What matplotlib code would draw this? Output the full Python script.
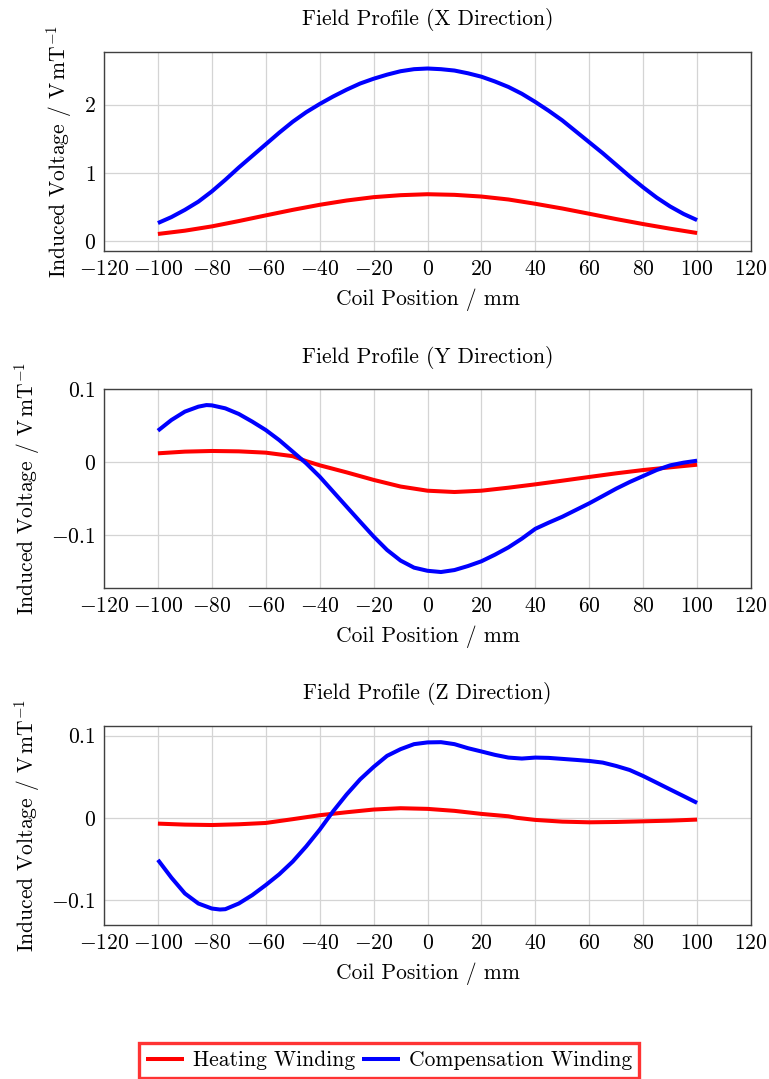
import matplotlib
matplotlib.use("Agg")
import matplotlib.pyplot as plt
from matplotlib.ticker import MultipleLocator, FuncFormatter

plt.rcParams['font.family'] = 'serif'
plt.rcParams['font.serif'] = ['cmr10']
plt.rcParams['mathtext.fontset'] = 'cm'
plt.rcParams['axes.formatter.use_mathtext'] = True
plt.rcParams['axes.unicode_minus'] = True

# ---- data ----
# X direction
xh_pos = [-100, -90, -80, -70, -60, -50, -40, -30, -20, -10, 0, 10, 20, 30, 40, 50, 60, 70, 80, 90, 100]
x_heat = [0.107, 0.155, 0.218, 0.296, 0.379, 0.460, 0.534, 0.597, 0.646, 0.675, 0.689,
          0.680, 0.655, 0.612, 0.549, 0.480, 0.403, 0.325, 0.252, 0.184, 0.121]
xc_pos = [-100, -95, -90, -85, -80, -75, -70, -65, -60, -55, -50, -45, -40, -35, -30, -25, -20, -15, -10, -5, 0,
          5, 10, 15, 20, 25, 30, 35, 40, 45, 50, 55, 60, 65, 70, 75, 80, 85, 90, 95, 100]
x_comp = [0.267, 0.354, 0.46, 0.58, 0.73, 0.90, 1.08, 1.25, 1.42, 1.59, 1.75, 1.89, 2.01, 2.12, 2.22, 2.31, 2.38,
          2.44, 2.49, 2.52, 2.53, 2.52, 2.50, 2.46, 2.41, 2.34, 2.26, 2.16, 2.04, 1.91, 1.77, 1.61, 1.45, 1.29,
          1.12, 0.95, 0.79, 0.64, 0.51, 0.40, 0.31]

# Y direction
yh_pos = [-100, -90, -80, -70, -60, -50, -45, -40, -30, -20, -10, 0, 10, 20, 30, 40, 50, 60, 70, 80, 90, 100]
y_heat = [0.0119, 0.0142, 0.0151, 0.0146, 0.0128, 0.0080, 0.0012, -0.0045, -0.0142, -0.0245, -0.0336, -0.0393,
          -0.0411, -0.0393, -0.0352, -0.0306, -0.0256, -0.0205, -0.0155, -0.011, -0.0073, -0.0037]
yc_pos = [-100, -95, -90, -85, -82, -80, -75, -70, -65, -60, -55, -50, -45, -40, -35, -30, -25, -20, -15, -10, -5,
          0, 5, 10, 15, 20, 25, 30, 35, 40, 45, 50, 55, 60, 65, 70, 75, 80, 85, 90, 95, 100]
y_comp = [0.0429, 0.0575, 0.069, 0.0758, 0.078, 0.0776, 0.0735, 0.0658, 0.0553, 0.0438, 0.030, 0.0142, -0.0018,
          -0.020, -0.0406, -0.0612, -0.0817, -0.102, -0.1205, -0.135, -0.1447, -0.149, -0.1507, -0.148, -0.1425,
          -0.136, -0.127, -0.117, -0.105, -0.0915, -0.083, -0.075, -0.0658, -0.0566, -0.0466, -0.0365, -0.0274,
          -0.0192, -0.011, -0.0046, -0.0009, 0.0018]

# Z direction
zh_pos = [-100, -90, -80, -70, -60, -50, -40, -30, -20, -10, 0, 10, 20, 30, 33, 40, 50, 60, 70, 80, 90, 100]
z_heat = [-0.0069, -0.0081, -0.0086, -0.0077, -0.0061, -0.0015, 0.0033, 0.0069, 0.0102, 0.0118, 0.011, 0.0086,
          0.0049, 0.002, 0.0002, -0.0024, -0.0045, -0.0053, -0.0049, -0.0041, -0.0033, -0.002]
zc_pos = [-100, -95, -90, -85, -80, -77, -75, -70, -65, -60, -55, -50, -45, -40, -35, -30, -25, -20, -15, -10, -5,
          0, 5, 10, 15, 20, 25, 30, 35, 40, 45, 50, 55, 60, 65, 70, 75, 80, 85, 90, 95, 100]
z_comp = [-0.0509, -0.0725, -0.0917, -0.1039, -0.110, -0.1112, -0.1108, -0.1039, -0.0937, -0.0815, -0.0684,
          -0.053, -0.0346, -0.0143, 0.0081, 0.0285, 0.0468, 0.0619, 0.0754, 0.0835, 0.0896, 0.0917, 0.092, 0.0896,
          0.0847, 0.0807, 0.0766, 0.0733, 0.0721, 0.0733, 0.0729, 0.0717, 0.0705, 0.0692, 0.0672, 0.0631, 0.0582,
          0.0509, 0.0428, 0.0346, 0.0265, 0.0183]

titles = ["Field Profile (X Direction)", "Field Profile (Y Direction)", "Field Profile (Z Direction)"]
xticks = [-120, -100, -80, -60, -40, -20, 0, 20, 40, 60, 80, 100, 120]
ylims = [(-0.138, 2.776), (-0.173, 0.100), (-0.130, 0.112)]
ysteps = [1.0, 0.1, 0.1]
series = [(xh_pos, x_heat, xc_pos, x_comp), (yh_pos, y_heat, yc_pos, y_comp), (zh_pos, z_heat, zc_pos, z_comp)]

W, H = 769, 1079
fig = plt.figure(figsize=(W / 100, H / 100), dpi=100)
boxes = [(51.7, 250.7), (389.0, 588.3), (725.7, 925.0)]
FS = 15.5

def fmt(v, p):
    if abs(v) < 1e-9:
        return r'$0$'
    return r'$%g$' % round(v, 3)

lines = []
for i, ((top, bot), (hp, h, cp, c)) in enumerate(zip(boxes, series)):
    ax = fig.add_axes([104 / W, 1 - bot / H, (751 - 104) / W, (bot - top) / H])
    l1, = ax.plot(hp, h, color='#ff0000', lw=2.9, label='Heating Winding', zorder=3,
                  solid_joinstyle='round', solid_capstyle='butt')
    l2, = ax.plot(cp, c, color='#0000ff', lw=2.9, label='Compensation Winding', zorder=3,
                  solid_joinstyle='round', solid_capstyle='butt')
    lines = [l1, l2]
    ax.set_xlim(-120, 120)
    ax.set_ylim(*ylims[i])
    ax.set_xticks(xticks)
    ax.yaxis.set_major_locator(MultipleLocator(ysteps[i]))
    ax.xaxis.set_major_formatter(FuncFormatter(fmt))
    ax.yaxis.set_major_formatter(FuncFormatter(fmt))
    ax.grid(True, color='#d4d4d4', lw=0.9)
    ax.set_axisbelow(True)
    ax.tick_params(length=0, labelsize=FS, pad=6)
    for s in ax.spines.values():
        s.set_color('#404040')
        s.set_linewidth(1.0)
    ax.set_title(titles[i], fontsize=FS, pad=19)
    ax.set_xlabel('Coil Position / mm', fontsize=FS, labelpad=7)
    ax.set_ylabel(r'Induced Voltage / $\mathrm{V\,mT^{-1}}$', fontsize=FS, labelpad=7)

leg = fig.legend(lines, [l.get_label() for l in lines], loc='upper center',
                 bbox_to_anchor=(389 / W, 1 - 1043 / H), ncol=2, fontsize=FS,
                 frameon=True, fancybox=False, handlelength=1.75, handletextpad=0.4,
                 columnspacing=0.35, borderpad=0.35, borderaxespad=0)
leg.get_frame().set_edgecolor('#ff0000')
leg.get_frame().set_linewidth(2.4)

fig.savefig('out.png', dpi=100)
